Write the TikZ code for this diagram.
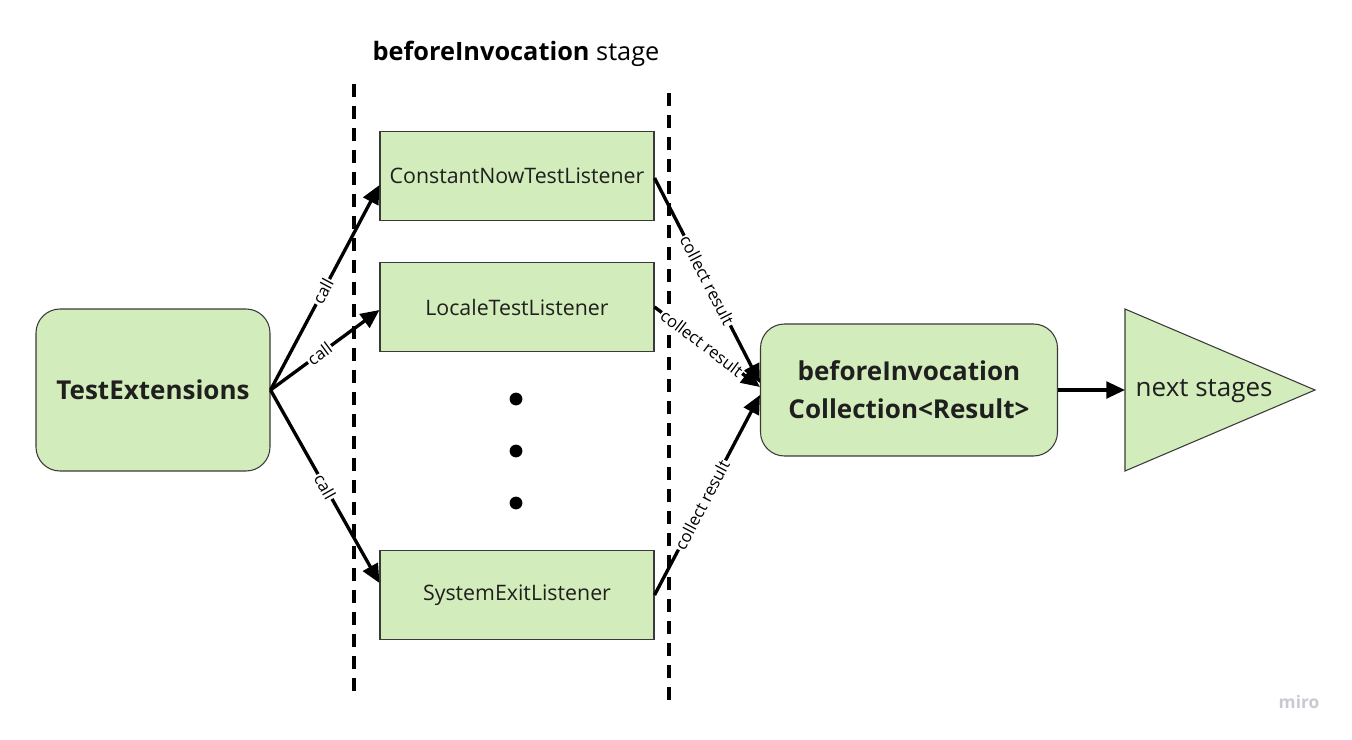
\documentclass[tikz,border=0pt]{standalone}
\usepackage{fontspec}
\setmainfont{Open Sans}
\usetikzlibrary{arrows.meta,positioning,calc}
\definecolor{boxgreen}{HTML}{D3ECBB}
\definecolor{boxline}{HTML}{3A3A3A}
\definecolor{mirogrey}{HTML}{C9C9D4}

\begin{document}
\begin{tikzpicture}[x=0.75pt,y=-0.75pt,font=\fontsize{16}{19}\selectfont,
  box/.style={draw=boxline,fill=boxgreen,line width=0.8pt,minimum width=205.5pt,minimum height=66.75pt,text=black!88},
  rbox/.style={box,rounded corners=18pt,font=\fontsize{19.5}{28.5}\selectfont\bfseries,align=center},
  link/.style={line width=2.5pt,-{Triangle[length=14pt,width=12.5pt]}},
  lbl/.style={fill=white,inner sep=1pt,sloped,font=\fontsize{12.5}{14}\selectfont},
  fence/.style={line width=2.6pt,dash pattern=on 10pt off 6.5pt}]
  \useasboundingbox (0,0) rectangle (1352,739);
  % stage boundaries
  \draw[fence] (354,84) -- (354,695);
  \draw[fence] (669,93) -- (669,703);
  \node (title) at (516,54) {\fontsize{19}{22}\selectfont\textbf{beforeInvocation} stage};
  % boxes
  \node[rbox,minimum width=175.5pt,minimum height=121.5pt] (ext) at (153,390) {TestExtensions};
  \node[box] (cnow) at (517,176) {ConstantNowTestListener};
  \node[box] (locale) at (517,307) {LocaleTestListener};
  \node[box] (sysexit) at (517,595) {SystemExitListener};
  \foreach \y in {399,451,503} \fill (516,\y) circle[radius=4.8pt];
  \node[rbox,minimum width=222.75pt,minimum height=99pt] (res) at (909,390) {beforeInvocation\\Collection<Result>};
  \draw[draw=boxline,fill=boxgreen,line width=0.8pt] (1125,309) -- (1315,390) -- (1125,471) -- cycle;
  \coordinate (nextin) at (1125,390);
  \node[anchor=west,font=\fontsize{19.5}{22}\selectfont,text=black!88] (next) at (1131,391) {next stages};
  % calls
  \draw[link] (ext.east) -- ($(cnow.west)+(0,9)$) node[lbl,pos=0.48] {call};
  \draw[link] (ext.east) -- ($(locale.west)+(0,3)$) node[lbl,pos=0.45] {call};
  \draw[link] (ext.east) -- ($(sysexit.west)+(0,-12)$) node[lbl,pos=0.5] {call};
  % results
  \draw[link] ($(cnow.east)+(0,2)$) -- ($(res.west)+(0,-7)$) node[lbl,pos=0.5] {collect result};
  \draw[link] (locale.east) -- ($(res.west)+(0,-3)$) node[lbl,pos=0.45] {collect result};
  \draw[link] (sysexit.east) -- ($(res.west)+(0,5)$) node[lbl,pos=0.45] {collect result};
  \draw[link] (res.east) -- (nextin);
  \node[font=\fontsize{13}{15}\selectfont\bfseries,text=mirogrey] (miro) at (1299,702) {miro};
\end{tikzpicture}
\end{document}
